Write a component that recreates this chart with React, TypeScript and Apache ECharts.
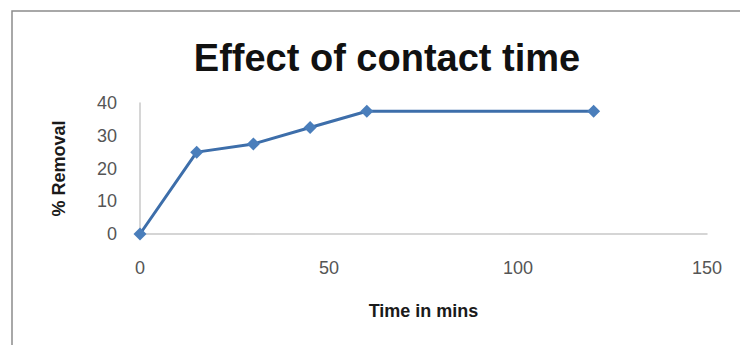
import React, { useEffect, useRef } from "react";
import * as echarts from "echarts";

const times = [0, 15, 30, 45, 60, 120];
const removal = [0, 25, 27.5, 32.5, 37.5, 37.5];
const titleText = "Effect of contact time";
const xName = "Time in mins";
const yName = "% Removal";

export default function App() {
  const ref = useRef<HTMLDivElement>(null);
  useEffect(() => {
    if (!ref.current) return;
    const chart = echarts.init(ref.current, null, { renderer: "svg" });
    const font = "'Liberation Sans', Arial, sans-serif";
    chart.setOption({
      animation: false,
      backgroundColor: "#ffffff",
      title: {
        text: titleText,
        left: 382,
        top: 34,
        textAlign: "center",
        textStyle: { fontFamily: font, fontSize: 38, fontWeight: "bold", color: "#111111" },
      },
      graphic: [
        {
          type: "rect",
          shape: { x: 12, y: 11, width: 800, height: 400 },
          style: { fill: "none", stroke: "#8c8c8c", lineWidth: 1.5 },
          silent: true,
        },
      ],
      grid: { left: 140, top: 103, right: 33, bottom: 111 },
      xAxis: {
        type: "value",
        min: 0,
        max: 150,
        interval: 50,
        name: xName,
        nameLocation: "middle",
        nameGap: 68,
        nameTextStyle: { fontFamily: font, fontSize: 18, fontWeight: "bold", color: "#1a1a1a" },
        axisLine: { show: true, lineStyle: { color: "#c8c8c8", width: 1.5 } },
        axisTick: { show: false },
        splitLine: { show: false },
        axisLabel: { margin: 25, fontFamily: font, fontSize: 18, color: "#555555" },
      },
      yAxis: {
        type: "value",
        min: 0,
        max: 40,
        interval: 10,
        name: yName,
        nameLocation: "middle",
        nameGap: 72,
        nameTextStyle: { fontFamily: font, fontSize: 18, fontWeight: "bold", color: "#1a1a1a" },
        axisLine: { show: true, lineStyle: { color: "#c8c8c8", width: 1.5 } },
        axisTick: { show: false },
        splitLine: { show: false },
        axisLabel: { margin: 23, fontFamily: font, fontSize: 18, color: "#555555" },
      },
      series: [
        {
          type: "line",
          data: times.map((t, i) => [t, removal[i]]),
          symbol: "diamond",
          symbolSize: 13,
          lineStyle: { color: "#3d6eaa", width: 3 },
          itemStyle: { color: "#4a7ebb" },
        },
      ],
    });
    return () => chart.dispose();
  }, []);
  return (
    <div
      ref={ref}
      style={{ position: "absolute", left: 0, top: 0, width: 740, height: 345 }}
    />
  );
}
